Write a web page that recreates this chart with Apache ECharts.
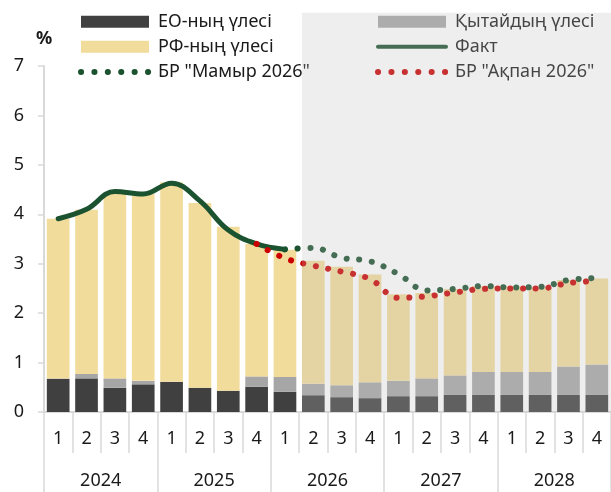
<!DOCTYPE html>
<html>
<head>
<meta charset="utf-8">
<script src="https://cdn.jsdelivr.net/npm/echarts@6/dist/echarts.min.js"></script>
<style>
  html, body { margin: 0; padding: 0; background: #fff; }
  #chart { width: 611px; height: 492px; }
</style>
</head>
<body>
<div id="chart"></div>
<script>
// кварталдар мен жылдар
const quarters = ['1','2','3','4','1','2','3','4','1','2','3','4','1','2','3','4','1','2','3','4'];
const years = ['2024', '2025', '2026', '2027', '2028'];

// бағандар (п.п.)
const euShare = [0.67, 0.68, 0.49, 0.56, 0.61, 0.49, 0.43, 0.51, 0.41, 0.34, 0.30, 0.28, 0.32, 0.32, 0.345, 0.345, 0.345, 0.345, 0.345, 0.345];
const chinaShare = [0.01, 0.09, 0.19, 0.07, -0.04, 0.0, -0.06, 0.21, 0.30, 0.23, 0.24, 0.32, 0.31, 0.36, 0.395, 0.465, 0.465, 0.465, 0.575, 0.615];
const rfShare = [3.23, 3.32, 3.76, 3.78, 4.04, 3.74, 3.32, 2.68, 2.57, 2.49, 2.40, 2.18, 1.75, 1.73, 1.75, 1.74, 1.73, 1.71, 1.75, 1.74];

// сызықтар (%)
const fact = [3.91, 4.10, 4.46, 4.41, 4.63, 4.27, 3.68, 3.40, 3.29, null, null, null, null, null, null, null, null, null, null, null];
const mayForecast = [null, null, null, null, null, null, null, null, 3.29, 3.32, 3.12, 3.05, 2.79, 2.46, 2.49, 2.55, 2.52, 2.53, 2.67, 2.71];
const febForecast = [null, null, null, null, null, null, null, 3.40, 3.11, 2.96, 2.84, 2.69, 2.31, 2.34, 2.42, 2.49, 2.50, 2.50, 2.61, 2.65];

const firstForecastIdx = 9;

const font = 'Noto Sans';
const gridLine = '#d9d9d9';
const green = '#1b5230';
const red = '#cc0000';
const dots = [0.1, 13.3];

const chart = echarts.init(document.getElementById('chart'));

const legendText = { fontFamily: font, fontSize: 18, color: '#1a1a1a', lineHeight: 18, padding: [0, 0, 0, 4] };
const legendBase = {
  orient: 'vertical', top: 12.7, padding: 0, itemWidth: 68, itemHeight: 12, itemGap: 7.1,
  textStyle: legendText
};

let option = {
  animation: false,
  textStyle: { fontFamily: font },
  grid: { left: 44, right: -6, top: 66, bottom: 80, containLabel: false },
  legend: [
    Object.assign({}, legendBase, {
      left: 78,
      data: [
        { name: 'ЕО-ның үлесі', icon: 'rect' },
        { name: 'РФ-ның үлесі', icon: 'rect' },
        { name: 'БР "Мамыр 2026"', itemStyle: { opacity: 0 },
          lineStyle: { color: green, width: 6, type: dots, cap: 'round' } }
      ]
    }),
    Object.assign({}, legendBase, {
      left: 375,
      data: [
        { name: 'Қытайдың үлесі', icon: 'rect' },
        { name: 'Факт', itemStyle: { opacity: 0 },
          lineStyle: { color: green, width: 4, type: 'solid', cap: 'round' } },
        { name: 'БР "Ақпан 2026"', itemStyle: { opacity: 0 },
          lineStyle: { color: red, width: 6, type: dots, cap: 'round' } }
      ]
    })
  ],
  xAxis: [
    {
      type: 'category',
      data: quarters,
      position: 'bottom',
      axisLine: { show: true, lineStyle: { color: gridLine, width: 2 } },
      axisTick: { show: true, interval: 0, length: 41, lineStyle: { color: gridLine, width: 1.5 } },
      axisLabel: { interval: 0, margin: 18, fontSize: 18, color: '#1a1a1a', fontFamily: font },
      splitLine: { show: false }
    },
    {
      type: 'category',
      data: years,
      position: 'bottom',
      axisLine: { show: false },
      axisTick: { show: true, interval: 0, length: 82, lineStyle: { color: gridLine, width: 1.5 } },
      axisLabel: { interval: 0, margin: 60, fontSize: 18, color: '#1a1a1a', fontFamily: font },
      splitLine: { show: false }
    }
  ],
  yAxis: {
    type: 'value',
    min: 0,
    max: 7,
    interval: 1,
    name: '%',
    nameLocation: 'end',
    nameGap: 18,
    nameTextStyle: { fontFamily: font, fontSize: 18, fontWeight: 'bold', color: '#1a1a1a', align: 'center' },
    axisLine: { show: true, lineStyle: { color: gridLine, width: 2 } },
    axisTick: { show: true, length: 6, lineStyle: { color: gridLine, width: 1.5 } },
    axisLabel: { margin: 20, fontSize: 18, color: '#1a1a1a', fontFamily: font },
    splitLine: { show: false }
  },
  series: [
    {
      name: 'ЕО-ның үлесі', type: 'bar', stack: 'share', data: euShare,
      barCategoryGap: '20%', itemStyle: { color: '#404040' }
    },
    {
      name: 'Қытайдың үлесі', type: 'bar', stack: 'share', data: chinaShare,
      itemStyle: { color: '#a6a6a6' }
    },
    {
      name: 'РФ-ның үлесі', type: 'bar', stack: 'share', data: rfShare,
      itemStyle: { color: '#f2dc9b' }
    },
    {
      name: 'Факт', type: 'line', data: fact, smooth: 0.4, symbol: 'none',
      lineStyle: { color: green, width: 5, cap: 'round' },
      itemStyle: { color: green }
    },
    {
      name: 'БР "Мамыр 2026"', type: 'line', data: mayForecast, smooth: 0.4, symbol: 'none',
      lineStyle: { color: green, width: 6, type: [0.1, 12.6], cap: 'round' },
      itemStyle: { color: green }
    },
    {
      name: 'БР "Ақпан 2026"', type: 'line', data: febForecast, smooth: 0.4, symbol: 'none',
      lineStyle: { color: red, width: 6, type: [0.1, 12.6], cap: 'round' },
      itemStyle: { color: red }
    }
  ]
};

chart.setOption(option);

// болжам аймағы: жартылай мөлдір сұр қабат (бірінші болжам бағанының сол жиегінен)
const c0 = chart.convertToPixel({ xAxisIndex: 0 }, firstForecastIdx - 1);
const c1 = chart.convertToPixel({ xAxisIndex: 0 }, firstForecastIdx);
const leftX = c1 - 0.4 * (c1 - c0);
const zeroY = chart.convertToPixel({ yAxisIndex: 0 }, 0);
chart.setOption({
  graphic: [{
    type: 'rect',
    z: 100,
    silent: true,
    shape: { x: leftX, y: 12.7, width: chart.getWidth() - leftX, height: zeroY - 12.7 },
    style: { fill: 'rgba(188,188,188,0.26)' }
  }]
});
</script>
</body>
</html>
